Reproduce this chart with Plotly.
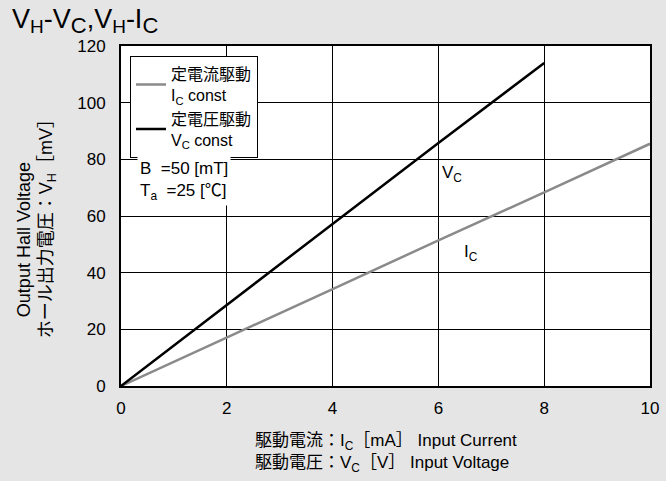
import plotly.graph_objects as go

# Data
ic_x = [0, 2, 4, 6, 8, 10]                   # Input current [mA]
ic_y = [0, 17.0, 34.2, 51.4, 68.3, 85.5]     # Hall voltage [mV]
vc_x = [0, 2, 4, 6, 8]                       # Input voltage [V]
vc_y = [0, 28.6, 57.2, 85.8, 114.0]

x_ticks = [0, 2, 4, 6, 8, 10]
y_ticks = [0, 20, 40, 60, 80, 100, 120]

FONT = "Liberation Sans, Arial, Noto Sans CJK JP, sans-serif"
FS = 17


def sub(t, size):
    return f'<sub><span style="font-size:{size}px">{t}</span></sub>'


fig = go.Figure()
fig.add_trace(go.Scatter(x=ic_x, y=ic_y, mode="lines",
                         name="定電流駆動<br>I<sub>C</sub> const",
                         line=dict(color="#8a8a8a", width=2.5)))
fig.add_trace(go.Scatter(x=vc_x, y=vc_y, mode="lines",
                         name="定電圧駆動<br>V<sub>C</sub> const",
                         line=dict(color="#000000", width=2.5)))

# In-plot labels
fig.add_annotation(x=6.03, y=75, xref="x", yref="y", text="V<sub>C</sub>",
                   showarrow=False, xanchor="left", yanchor="middle",
                   font=dict(size=FS, color="black"))
fig.add_annotation(x=6.45, y=47, xref="x", yref="y", text="I<sub>C</sub>",
                   showarrow=False, xanchor="left", yanchor="middle",
                   font=dict(size=FS, color="black"))
fig.add_annotation(x=0.03, y=0.603, xref="paper", yref="paper",
                   text="B  =50 [mT]<br>T<sub>a</sub>  =25 [℃]",
                   showarrow=False, xanchor="left", yanchor="middle", align="left",
                   bgcolor="white", borderpad=2,
                   font=dict(size=FS, color="black"))

# Axis titles
fig.add_annotation(x=(24 - 121) / 529, y=0.429, xref="paper", yref="paper",
                   text="Output Hall Voltage", textangle=-90,
                   showarrow=False, xanchor="center", yanchor="middle",
                   font=dict(size=18, color="black"))
fig.add_annotation(x=(47 - 121) / 529, y=0.476, xref="paper", yref="paper",
                   text="ホール出力電圧：V<sub>H</sub>［mV］", textangle=-90,
                   showarrow=False, xanchor="center", yanchor="middle",
                   font=dict(size=18, color="black"))
fig.add_annotation(x=0.5, y=-0.197, xref="paper", yref="paper",
                   text="駆動電流：I<sub>C</sub>［mA］ Input Current<br>駆動電圧：V<sub>C</sub>［V］ Input Voltage",
                   showarrow=False, xanchor="center", yanchor="middle", align="left",
                   font=dict(size=FS, color="black"))

title_text = ("V" + sub("H", 19) + "-V" + sub("C", 22) + ",V" + sub("H", 19)
              + "-I" + sub("C", 22))

fig.update_layout(
    width=666, height=481,
    paper_bgcolor="#e5e5e5", plot_bgcolor="white",
    margin=dict(l=121, r=16, t=46, b=95),
    font=dict(family=FONT, size=FS, color="black"),
    title=dict(text=title_text,
               xref="container", yref="container",
               x=0.018, xanchor="left", y=0.982, yanchor="top",
               font=dict(size=27, color="black")),
    legend=dict(x=0.017, y=0.97, xanchor="left", yanchor="top",
                bgcolor="white", bordercolor="black", borderwidth=1,
                font=dict(size=16), tracegroupgap=0),
    xaxis=dict(range=[0, 10], tickvals=x_ticks, showgrid=True,
               gridcolor="black", gridwidth=1, showline=True, linecolor="black",
               linewidth=2, mirror=True, ticks="", zeroline=False,
               tickfont=dict(size=FS), ticklabelstandoff=6, automargin=False),
    yaxis=dict(range=[0, 120], tickvals=y_ticks, showgrid=True,
               gridcolor="black", gridwidth=1, showline=True, linecolor="black",
               linewidth=2, mirror=True, ticks="", zeroline=False,
               tickfont=dict(size=FS), ticklabelstandoff=10, automargin=False),
)

fig.write_html("out.html", config={"displayModeBar": False},
               post_script="document.body.style.margin='0px';")
